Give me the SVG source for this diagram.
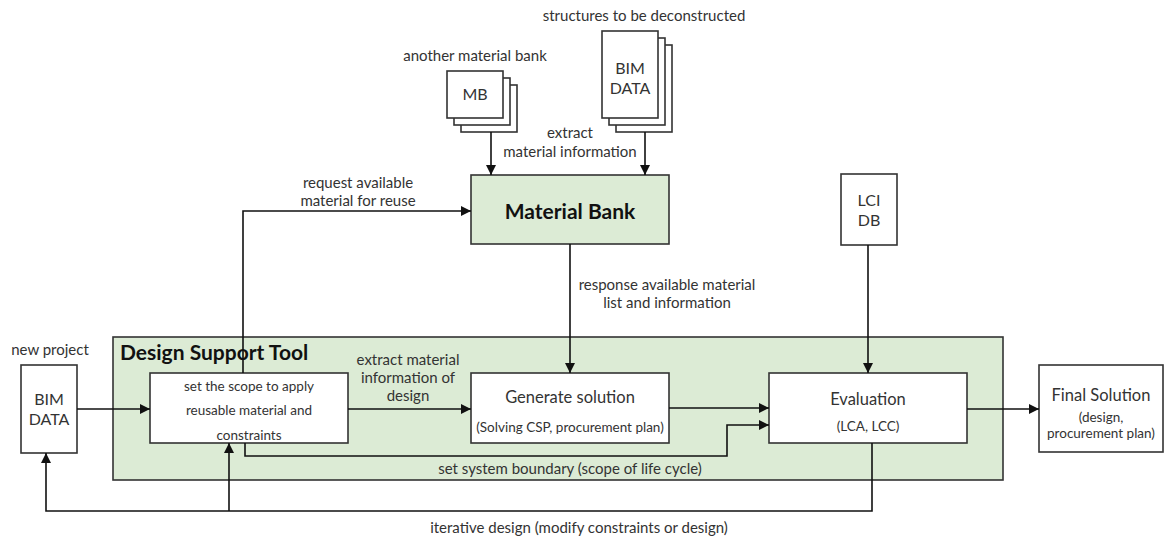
<svg xmlns="http://www.w3.org/2000/svg" width="1164" height="537" viewBox="0 0 1164 537">
<defs>
<marker id="ah" viewBox="0 0 10 10" refX="10" refY="5" markerWidth="10" markerHeight="10" markerUnits="userSpaceOnUse" orient="auto">
<path d="M0,0 L10,5 L0,10 z" fill="#111"/>
</marker>
</defs>
<style>
text{font-family:Lato,"Open Sans","Liberation Sans",sans-serif;fill:#333;font-size:15px;text-anchor:middle}
.b{font-weight:bold;fill:#111;font-size:21px}
.m{font-size:16px}
.t{font-size:16.5px}
.s{font-size:13.5px}
.n{fill:#fff;stroke:#333;stroke-width:1.6}
.g{fill:#dcebd5;stroke:#333;stroke-width:1.6}
.c{fill:none;stroke:#111;stroke-width:1.6}
.a{marker-end:url(#ah)}
</style>
<rect width="1164" height="537" fill="#fff"/>
<g id="dst">
<rect class="g" x="113" y="337" width="890" height="143"/>
<text class="b" x="120" y="360" style="text-anchor:start">Design Support Tool</text>
</g>
<g id="mb-stack">
<text x="475" y="61">another material bank</text>
<rect class="n" x="461" y="85" width="56" height="47"/>
<rect class="n" x="454" y="78" width="56" height="47"/>
<rect class="n" x="447" y="71" width="56" height="47"/>
<text class="m" x="475" y="100">MB</text>
</g>
<g id="bim-stack">
<text x="644" y="21">structures to be deconstructed</text>
<rect class="n" x="616" y="45" width="56" height="87"/>
<rect class="n" x="609" y="38" width="56" height="87"/>
<rect class="n" x="602" y="31" width="56" height="87"/>
<text class="m" x="630" y="74">BIM</text>
<text class="m" x="630" y="94">DATA</text>
</g>
<g id="material-bank">
<rect class="g" x="471" y="175" width="198" height="69"/>
<text class="b" x="570" y="219">Material Bank</text>
</g>
<g id="lci">
<rect class="n" x="841" y="174" width="56" height="71"/>
<text class="m" x="869" y="206">LCI</text>
<text class="m" x="869" y="226">DB</text>
</g>
<g id="bim-new">
<text x="50" y="355">new project</text>
<rect class="n" x="21" y="365" width="56" height="88"/>
<text class="m" x="49" y="405">BIM</text>
<text class="m" x="49" y="425">DATA</text>
</g>
<g id="scope">
<rect class="n" x="150" y="373" width="198" height="70"/>
<text class="s" x="249" y="391">set the scope to apply</text>
<text class="s" x="249" y="415">reusable material and</text>
<text class="s" x="249" y="440">constraints</text>
</g>
<g id="generate">
<rect class="n" x="471" y="373" width="198" height="70"/>
<text class="t" x="570" y="403">Generate solution</text>
<text class="s" x="570" y="432">(Solving CSP, procurement plan)</text>
</g>
<g id="evaluation">
<rect class="n" x="769" y="373" width="198" height="70"/>
<text class="t" x="868" y="405">Evaluation</text>
<text class="s" x="868" y="431">(LCA, LCC)</text>
</g>
<g id="final">
<rect class="n" x="1039" y="365" width="124" height="87"/>
<text class="t" x="1101" y="401">Final Solution</text>
<text class="s" x="1101" y="422">(design,</text>
<text class="s" x="1101" y="438">procurement plan)</text>
</g>
<g id="connectors">
<path class="c a" d="M491,132 V175"/>
<path class="c a" d="M645,132 V175"/>
<text x="570" y="138">extract</text>
<text x="570" y="157">material information</text>
<path class="c a" d="M243,373 V211 H471"/>
<text x="358" y="188">request available</text>
<text x="358" y="206">material for reuse</text>
<path class="c a" d="M570,244 V373"/>
<text x="667" y="290">response available material</text>
<text x="667" y="308">list and information</text>
<path class="c a" d="M868,245 V373"/>
<path class="c a" d="M77,409 H150"/>
<path class="c a" d="M348,409 H471"/>
<text x="408" y="365">extract material</text>
<text x="408" y="383">information of</text>
<text x="408" y="401">design</text>
<path class="c a" d="M669,408 H769"/>
<path class="c a" d="M245,443 V456 H727 V425 H769"/>
<text x="570" y="474">set system boundary (scope of life cycle)</text>
<path class="c a" d="M967,409 H1039"/>
<path class="c a" d="M872,443 V511 H46 V453"/>
<path class="c a" d="M229,511 V443"/>
<text x="579" y="533">iterative design (modify constraints or design)</text>
</g>
</svg>
